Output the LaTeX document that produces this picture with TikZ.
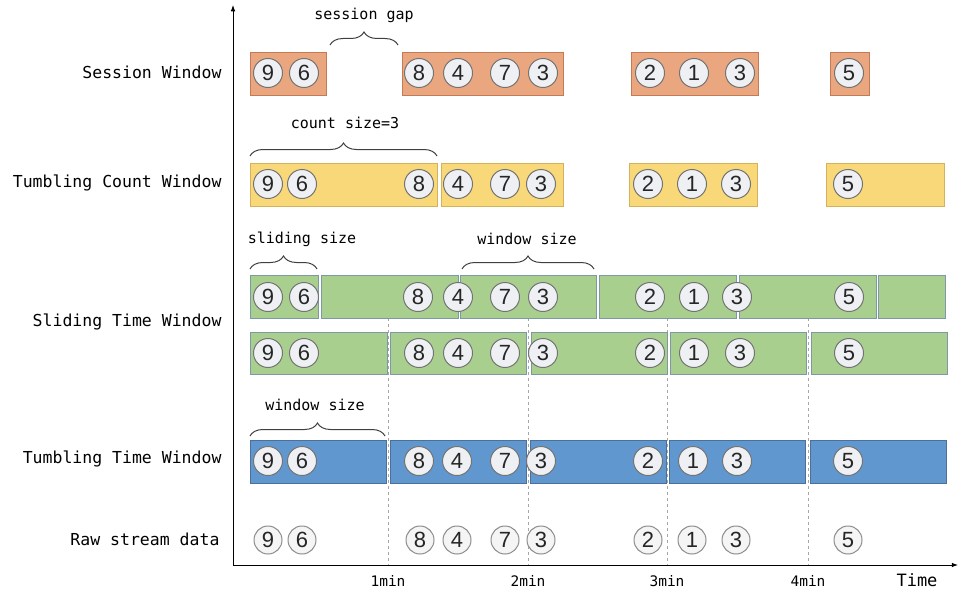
\documentclass[tikz,border=0pt]{standalone}
\usepackage{fontspec}
\setsansfont{Liberation Sans}
\setmonofont{DejaVu Sans Mono}
\usetikzlibrary{positioning,arrows.meta,calc,decorations.pathreplacing}
\usepackage{xcolor}
\definecolor{SessFill}{HTML}{EAA67F}
\definecolor{SessLine}{HTML}{C47A55}
\definecolor{CntFill}{HTML}{F8D878}
\definecolor{CntLine}{HTML}{D2B25A}
\definecolor{SlideFill}{HTML}{A9CF8F}
\definecolor{SlideLine}{HTML}{7D98A6}
\definecolor{TumbFill}{HTML}{6097CF}
\definecolor{TumbLine}{HTML}{4D7099}
\definecolor{EvFill}{HTML}{EEF0F3}

\begin{document}
\begin{tikzpicture}[x=1pt, y=-1pt,
        win/.style={draw, line width=1.2pt, anchor=north west, inner sep=0pt,
                    minimum height=43pt},
        sess/.style={win, fill=SessFill, draw=SessLine},
        cnt/.style={win, fill=CntFill, draw=CntLine},
        slide/.style={win, fill=SlideFill, draw=SlideLine},
        tumb/.style={win, fill=TumbFill, draw=TumbLine},
        ev/.style={circle, draw=black!55, line width=1pt, fill=EvFill,
                   minimum size=29pt, inner sep=0pt,
                   font=\sffamily\fontsize{22}{22}\selectfont, text=black!85},
        raw/.style={ev, draw=black!45, fill=black!4, minimum size=28pt},
        lbl/.style={anchor=east, font=\ttfamily\fontsize{16.5}{18}\selectfont},
        note/.style={font=\ttfamily\fontsize{15}{17}\selectfont},
        ticklbl/.style={font=\ttfamily\fontsize{14.5}{16}\selectfont},
        brc/.style={decorate, decoration={brace, amplitude=13pt}, line width=1pt,
                    black!75},
        axis/.style={-{Latex[length=2.2mm]}, line width=1pt},
        tick/.style={dashed, black!35, line width=0.9pt},
      ]
      \useasboundingbox (0,0) rectangle (966,602);

      % axes
      \coordinate (o) at (233,565);
      \coordinate (ytop) at (233,5);
      \coordinate (xend) at (958,565);
      \draw[axis] (o) -- (ytop);
      \draw[axis] (o) -- (xend);
      \foreach \x/\t in {388/1, 528/2, 667/3, 808/4} {
        \coordinate (m\t) at (\x,318);
        \coordinate (b\t) at (\x,565);
        \draw[tick] (m\t) -- (b\t);
        \node[ticklbl] (tl\t) at (\x,581) {\t min};
      }
      \node[font=\ttfamily\fontsize{17}{19}\selectfont] (time) at (917,580) {Time};

      % row labels
      \node[lbl] (lsess) at (225,72)  {Session Window};
      \node[lbl] (lcnt)  at (225,183) {Tumbling Count Window};
      \node[lbl] (lslide) at (225,322) {Sliding Time Window};
      \node[lbl] (ltumb) at (225,459) {Tumbling Time Window};
      \node[lbl] (lraw)  at (223,539) {Raw stream data};

      % session windows
      \node[sess, minimum width=76pt]  (sw1) at (250,52) {};
      \node[sess, minimum width=161pt] (sw2) at (402,52) {};
      \node[sess, minimum width=127pt] (sw3) at (631,52) {};
      \node[sess, minimum width=39pt]  (sw4) at (830,52) {};
      \draw[brc] (330,45) -- (398,45);
      \node[note] (gap) at (364,15) {session gap};

      % tumbling count windows
      \node[cnt, minimum width=187pt] (cw1) at (250,163) {};
      \node[cnt, minimum width=122pt] (cw2) at (441,163) {};
      \node[cnt, minimum width=128pt] (cw3) at (629,163) {};
      \node[cnt, minimum width=118pt] (cw4) at (826,163) {};
      \draw[brc] (250,156) -- (437,156);
      \node[note] (csize) at (345,123) {count size=3};

      % sliding time windows
      \node[slide, minimum width=68pt]  (sa1) at (250,275) {};
      \node[slide, minimum width=137pt] (sa2) at (321,275) {};
      \node[slide, minimum width=136pt] (sa3) at (460,275) {};
      \node[slide, minimum width=137pt] (sa4) at (599,275) {};
      \node[slide, minimum width=137pt] (sa5) at (739,275) {};
      \node[slide, minimum width=67pt]  (sa6) at (878,275) {};
      \node[slide, minimum width=137pt, minimum height=42pt] (sb1) at (250,332) {};
      \node[slide, minimum width=136pt, minimum height=42pt] (sb2) at (390,332) {};
      \node[slide, minimum width=136pt, minimum height=42pt] (sb3) at (531,332) {};
      \node[slide, minimum width=136pt, minimum height=42pt] (sb4) at (670,332) {};
      \node[slide, minimum width=136pt, minimum height=42pt] (sb5) at (811,332) {};
      \draw[brc] (250,269) -- (317,269);
      \node[note] (ssize) at (302,239) {sliding size};
      \draw[brc] (462,269) -- (594,269);
      \node[note] (wsize) at (527,239) {window size};

      % tumbling time windows
      \node[tumb, minimum width=136pt] (tw1) at (250,440) {};
      \node[tumb, minimum width=136pt] (tw2) at (390,440) {};
      \node[tumb, minimum width=136pt] (tw3) at (530,440) {};
      \node[tumb, minimum width=136pt] (tw4) at (669,440) {};
      \node[tumb, minimum width=136pt] (tw5) at (810,440) {};
      \draw[brc] (250,436) -- (385,436);
      \node[note] (tsize) at (315,405) {window size};

      % events
      \foreach \x/\d [count=\i] in {268/9,304/6,419/8,458/4,505/7,543/3,650/2,694/1,740/3,849/5}
        \node[ev] (es\i) at (\x,73) {\d};
      \foreach \x/\d [count=\i] in {268/9,302/6,419/8,458/4,505/7,541/3,648/2,692/1,736/3,848/5}
        \node[ev] (ec\i) at (\x,184) {\d};
      \foreach \x/\d [count=\i] in {268/9,304/6,418/8,458/4,505/7,543/3,650/2,694/1,737/3,849/5}
        \node[ev] (ea\i) at (\x,297) {\d};
      \foreach \x/\d [count=\i] in {268/9,304/6,419/8,458/4,505/7,543/3,650/2,694/1,740/3,849/5}
        \node[ev] (eb\i) at (\x,353) {\d};
      \foreach \x/\d [count=\i] in {268/9,302/6,419/8,457/4,505/7,541/3,648/2,693/1,737/3,848/5}
        \node[ev] (et\i) at (\x,461) {\d};
      \foreach \x/\d [count=\i] in {268/9,302/6,420/8,457/4,505/7,541/3,648/2,692/1,736/3,848/5}
        \node[raw] (er\i) at (\x,540) {\d};
    \end{tikzpicture}
\end{document}
